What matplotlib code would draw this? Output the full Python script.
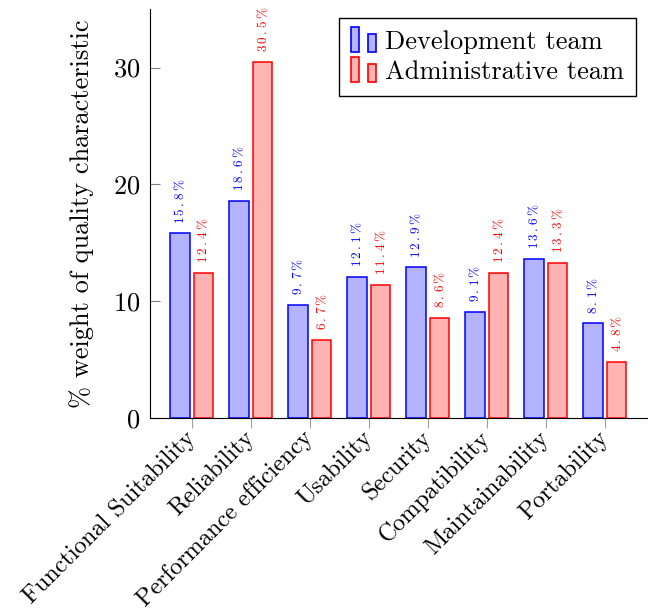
import numpy as np
import matplotlib
matplotlib.use('Agg')
import matplotlib.pyplot as plt
from matplotlib.patches import Rectangle
from matplotlib.legend_handler import HandlerBase

plt.rcParams['font.family'] = 'cmr10'
plt.rcParams['mathtext.fontset'] = 'cm'
plt.rcParams['axes.formatter.use_mathtext'] = True

categories = ['Functional Suitability', 'Reliability', 'Performance efficiency',
              'Usability', 'Security', 'Compatibility', 'Maintainability', 'Portability']
dev_team = [15.8, 18.6, 9.7, 12.1, 12.9, 9.1, 13.6, 8.1]
admin_team = [12.4, 30.5, 6.7, 11.4, 8.6, 12.4, 13.3, 4.8]

blue_fill = (0.7, 0.7, 1.0)
red_fill = (1.0, 0.7, 0.7)


class TwoBarHandler(HandlerBase):
    # pgfplots-style ybar legend image: two small bars side by side
    def create_artists(self, legend, orig_handle, xdescent, ydescent,
                       width, height, fontsize, trans):
        fc = orig_handle.get_facecolor()
        ec = orig_handle.get_edgecolor()
        w = width * 0.3
        y0 = -ydescent - 0.15 * height
        r1 = Rectangle((-xdescent, y0), w, height * 1.35, facecolor=fc,
                       edgecolor=ec, lw=1.2, transform=trans)
        r2 = Rectangle((-xdescent + width * 0.65, y0), w, height * 0.95,
                       facecolor=fc, edgecolor=ec, lw=1.2, transform=trans)
        return [r1, r2]


def pct_label(v):
    # slightly spaced-out digits, like a small LaTeX font
    s = '%.1f' % v
    return r'$\mathrm{' + r'\,'.join(s) + r'\,\%}$'


fig = plt.figure(figsize=(6.52, 6.12), dpi=100)
ax = fig.add_axes([0.230, 0.317, 0.762, 0.668])

x = np.arange(len(categories))
w = 0.33
off = 0.2
ax.bar(x - off, dev_team, w, color=blue_fill, edgecolor='blue', lw=1.1)
ax.bar(x + off, admin_team, w, color=red_fill, edgecolor='red', lw=1.1)

for xi, v in zip(x, dev_team):
    ax.annotate(pct_label(v), (xi - off, v), xytext=(0, 7), textcoords='offset points',
                rotation=90, ha='center', va='bottom', color='blue', fontsize=9.5)
for xi, v in zip(x, admin_team):
    ax.annotate(pct_label(v), (xi + off, v), xytext=(0, 7), textcoords='offset points',
                rotation=90, ha='center', va='bottom', color='red', fontsize=9.5)

ax.set_xlim(-0.71, 7.71)
ax.set_ylim(0, 35)
ax.set_yticks([0, 10, 20, 30])
ax.set_xticks(x)
ax.set_xticklabels(categories, rotation=45, ha='right', va='center',
                   rotation_mode='anchor')

ax.spines['top'].set_visible(False)
ax.spines['right'].set_visible(False)
ax.tick_params(axis='y', direction='in', length=7, color='#808080', labelsize=19, pad=7)
ax.tick_params(axis='x', direction='out', length=7, color='#a0a0a0', labelsize=17.5, pad=5)

ax.set_ylabel('% weight of quality characteristic', fontsize=19)
ax.yaxis.set_label_coords(-0.113, 0.5)

handles = [Rectangle((0, 0), 1, 1, facecolor=blue_fill, edgecolor='blue'),
           Rectangle((0, 0), 1, 1, facecolor=red_fill, edgecolor='red')]
leg = ax.legend(handles, ['Development team', 'Administrative team'],
                handler_map={Rectangle: TwoBarHandler()},
                loc='upper right', bbox_to_anchor=(0.978, 0.978), borderaxespad=0,
                fontsize=19, fancybox=False, framealpha=1, edgecolor='black',
                handlelength=1.0, handletextpad=0.3, labelspacing=0.25,
                borderpad=0.45)
leg.get_frame().set_linewidth(1.0)

plt.savefig('out.png', dpi=100)
